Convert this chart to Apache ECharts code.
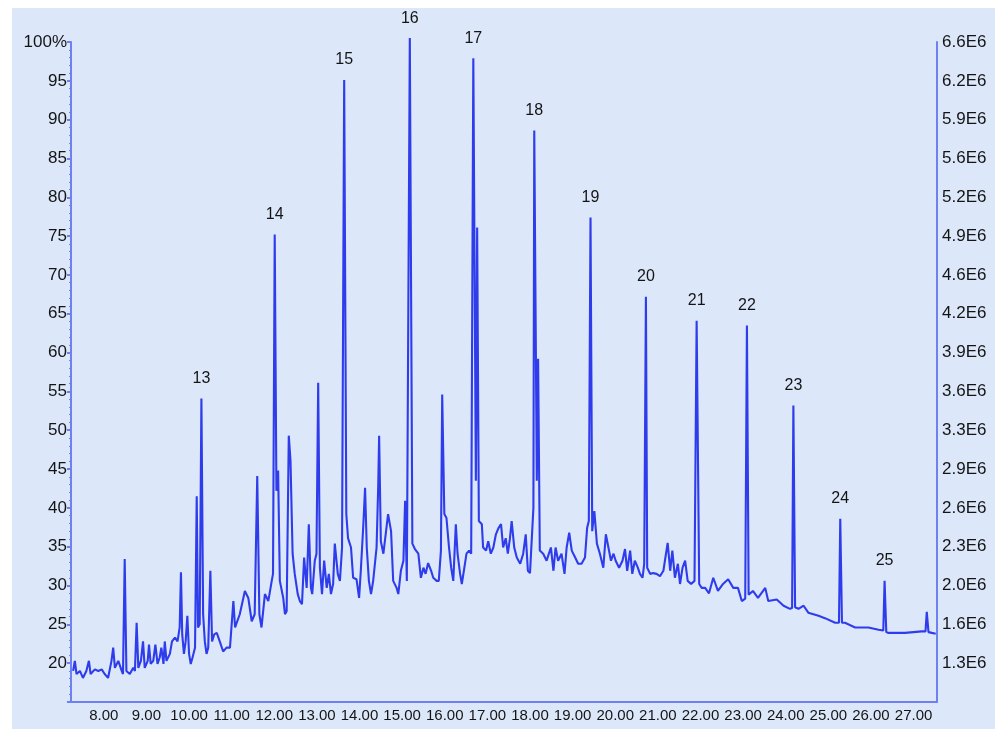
<!DOCTYPE html>
<html>
<head>
<meta charset="utf-8">
<title>Chromatogram</title>
<script src="https://cdn.jsdelivr.net/npm/echarts@6/dist/echarts.min.js"></script>
<style>
    body { margin: 0; background: #ffffff; }
    #chart { position: absolute; left: 12px; top: 8px; width: 983px; height: 721px; background: #dce8fa; }
</style>
</head>
<body>
<div id="chart"></div>
<script>
// [retention time (min), relative abundance (%)]
var chromatogram = [
    [7.28, 19.0], [7.32, 20.3], [7.36, 18.6], [7.44, 19.0], [7.51, 18.1], [7.59, 19.0], [7.65, 20.3], [7.69, 18.6],
    [7.79, 19.2], [7.87, 19.0], [7.95, 19.2], [8.02, 18.6], [8.10, 18.1], [8.18, 20.3], [8.22, 22.0], [8.26, 19.4],
    [8.34, 20.3], [8.42, 19.0], [8.45, 18.6], [8.49, 33.4], [8.53, 19.0], [8.61, 18.6], [8.69, 19.4], [8.73, 19.0],
    [8.77, 25.2], [8.81, 19.4], [8.87, 20.3], [8.92, 22.8], [8.96, 19.4], [9.03, 20.3], [9.06, 22.4], [9.10, 19.9],
    [9.16, 20.3], [9.21, 22.4], [9.26, 19.9], [9.31, 20.7], [9.35, 22.0], [9.40, 19.9], [9.43, 22.8], [9.47, 20.3],
    [9.55, 21.2], [9.60, 22.8], [9.67, 23.3], [9.73, 22.8], [9.78, 24.6], [9.81, 31.7], [9.84, 23.7], [9.88, 21.2],
    [9.92, 22.8], [9.96, 26.1], [10.00, 21.2], [10.04, 19.9], [10.08, 20.7], [10.14, 22.0], [10.18, 41.5], [10.21, 24.6],
    [10.25, 25.0], [10.29, 54.1], [10.33, 26.3], [10.37, 22.8], [10.41, 21.2], [10.45, 22.0], [10.50, 31.9], [10.54, 22.8],
    [10.59, 23.7], [10.65, 23.9], [10.72, 22.8], [10.80, 21.5], [10.88, 22.0], [10.96, 22.0],
    [11.04, 28.0], [11.08, 24.6], [11.19, 26.3], [11.31, 29.3], [11.39, 28.4], [11.47, 25.4], [11.54, 26.3], [11.60, 44.1],
    [11.65, 26.3], [11.70, 24.6], [11.78, 28.9], [11.86, 28.0], [11.94, 30.6], [11.97, 31.5], [12.01, 75.2], [12.05, 42.2],
    [12.09, 44.8], [12.13, 30.6], [12.21, 28.4], [12.25, 26.3], [12.29, 26.7], [12.34, 49.3], [12.38, 46.1], [12.43, 34.1],
    [12.48, 31.5], [12.55, 28.9], [12.60, 28.0], [12.65, 27.6], [12.70, 33.6], [12.76, 29.7], [12.81, 37.9], [12.86, 29.7],
    [12.89, 28.9], [12.95, 33.2], [12.99, 34.1], [13.03, 56.1], [13.07, 32.3], [13.12, 28.9], [13.17, 33.2], [13.23, 29.7],
    [13.28, 31.5], [13.33, 28.9], [13.38, 30.2], [13.42, 35.4], [13.49, 31.5], [13.54, 30.6], [13.59, 34.9], [13.64, 95.1],
    [13.69, 39.2], [13.73, 36.1], [13.80, 34.9], [13.85, 31.0], [13.93, 30.8], [13.99, 28.4], [14.03, 31.9], [14.09, 37.9],
    [14.13, 42.6], [14.17, 34.9], [14.22, 30.6], [14.27, 28.9], [14.32, 30.6], [14.40, 34.9], [14.44, 43.1], [14.46, 49.3],
    [14.50, 35.7], [14.56, 34.1],
    [14.67, 39.2], [14.74, 37.0], [14.79, 30.6], [14.87, 29.7], [14.91, 28.9], [14.97, 31.9], [15.03, 33.2], [15.07, 40.9],
    [15.11, 30.6], [15.14, 30.6], [15.18, 100.5], [15.24, 35.4], [15.30, 34.7], [15.38, 34.1], [15.44, 31.0], [15.50, 32.3],
    [15.55, 31.5], [15.61, 32.9], [15.68, 31.9], [15.73, 31.0], [15.81, 30.6], [15.86, 30.6], [15.91, 34.5], [15.94, 54.6],
    [15.99, 39.2], [16.04, 38.7], [16.10, 34.9], [16.15, 32.3], [16.20, 30.6], [16.26, 37.9], [16.30, 34.1], [16.36, 31.5],
    [16.40, 30.2], [16.46, 32.3], [16.51, 34.1], [16.57, 34.5], [16.62, 34.1], [16.67, 97.9], [16.73, 43.5], [16.76, 76.1],
    [16.80, 38.3], [16.87, 37.9], [16.90, 34.9], [16.97, 34.5], [17.02, 35.7], [17.08, 34.1], [17.14, 34.9], [17.20, 36.6],
    [17.26, 37.4], [17.32, 37.9], [17.37, 34.9], [17.43, 36.1], [17.48, 34.1], [17.53, 36.1], [17.57, 38.3], [17.63, 34.9],
    [17.69, 33.6], [17.77, 32.8], [17.84, 34.1], [17.90, 36.6], [17.95, 31.9], [18.00, 31.6], [18.08, 40.0], [18.10, 88.6],
    [18.16, 43.5], [18.19, 59.2], [18.23, 34.5], [18.31, 34.1], [18.39, 33.2],
    [18.49, 34.9], [18.55, 31.9], [18.60, 34.9], [18.66, 33.2], [18.74, 34.1], [18.81, 31.5], [18.86, 34.9], [18.92, 36.8],
    [18.98, 34.5], [19.06, 33.6], [19.13, 32.8], [19.21, 32.8], [19.29, 33.6], [19.34, 37.4], [19.38, 38.3], [19.42, 77.4],
    [19.46, 37.0], [19.51, 39.6], [19.57, 35.4], [19.64, 34.1], [19.72, 32.3], [19.78, 36.6], [19.84, 34.9], [19.90, 33.2],
    [19.96, 34.1], [20.01, 33.2], [20.09, 32.3], [20.17, 33.2], [20.23, 34.7], [20.28, 31.9], [20.35, 34.5], [20.40, 31.5],
    [20.46, 33.2], [20.53, 32.3], [20.58, 31.5], [20.64, 31.0], [20.68, 32.8], [20.72, 67.2], [20.75, 32.3], [20.82, 31.5],
    [20.89, 31.6], [20.97, 31.5], [21.05, 31.2], [21.13, 31.9], [21.23, 35.5], [21.29, 31.9], [21.34, 34.5], [21.40, 31.0],
    [21.47, 32.8], [21.52, 30.2], [21.58, 32.3], [21.64, 33.2], [21.70, 30.6], [21.78, 30.2], [21.86, 30.6], [21.91, 64.1],
    [21.97, 30.2], [22.03, 29.7], [22.11, 29.7], [22.20, 29.0],
    [22.30, 31.0], [22.41, 29.3], [22.53, 30.2], [22.65, 30.8], [22.77, 29.7], [22.88, 29.7], [22.97, 28.0], [23.05, 28.3],
    [23.09, 63.5], [23.13, 28.8], [23.16, 28.6], [23.23, 29.3], [23.35, 28.4], [23.52, 29.7], [23.59, 28.0], [23.79, 28.2],
    [23.95, 27.4], [24.10, 27.0], [24.15, 27.1], [24.18, 53.2], [24.22, 27.2], [24.30, 27.0], [24.42, 27.4], [24.53, 26.5],
    [24.77, 26.1], [24.92, 25.8], [25.16, 25.2], [25.25, 25.2], [25.28, 38.6], [25.32, 25.2], [25.39, 25.2], [25.63, 24.6],
    [25.94, 24.6], [26.18, 24.3], [26.29, 24.2], [26.32, 30.6], [26.36, 24.0], [26.41, 23.9], [26.80, 23.9], [27.19, 24.1],
    [27.28, 24.1], [27.31, 26.6], [27.35, 24.0], [27.43, 23.9], [27.52, 23.8]
];

// numbered peaks
var peakNumbers = ['13', '14', '15', '16', '17', '18', '19', '20', '21', '22', '23', '24', '25'];
var peakTimes = [10.29, 12.01, 13.64, 15.18, 16.67, 18.10, 19.42, 20.72, 21.91, 23.09, 24.18, 25.28, 26.32];
var peakHeights = [54.1, 75.2, 95.1, 100.5, 97.9, 88.6, 77.4, 67.2, 64.1, 63.5, 53.2, 38.6, 30.6];

// axis ticks
var timeTicks = [8, 9, 10, 11, 12, 13, 14, 15, 16, 17, 18, 19, 20, 21, 22, 23, 24, 25, 26, 27];
var timeTickLabels = ['8.00', '9.00', '10.00', '11.00', '12.00', '13.00', '14.00', '15.00', '16.00', '17.00',
    '18.00', '19.00', '20.00', '21.00', '22.00', '23.00', '24.00', '25.00', '26.00', '27.00'];
var percentTicks = [20, 25, 30, 35, 40, 45, 50, 55, 60, 65, 70, 75, 80, 85, 90, 95, 100];
var countTickLabels = ['1.3E6', '1.6E6', '2.0E6', '2.3E6', '2.6E6', '2.9E6', '3.3E6', '3.6E6', '3.9E6',
    '4.2E6', '4.6E6', '4.9E6', '5.2E6', '5.6E6', '5.9E6', '6.2E6', '6.6E6'];

var axisBlue = '#6f80f3';
var fontFamily = 'Liberation Sans, Arial, sans-serif';
var textColor = '#141414';

var chart = echarts.init(document.getElementById('chart'));

var peakData = peakTimes.map(function (t, i) { return [t, peakHeights[i]]; });

var option = {
    animation: false,
    grid: { left: 59, right: 58, top: 34, bottom: 27 },
    xAxis: {
        type: 'value',
        min: 7.23,
        max: 27.55,
        axisLine: { lineStyle: { color: axisBlue, width: 2 } },
        axisTick: { show: false },
        splitLine: { show: false },
        axisLabel: {
            customValues: timeTicks,
            margin: 6,
            color: textColor,
            fontSize: 15,
            fontFamily: fontFamily,
            formatter: function (v) {
                var i = timeTicks.indexOf(Math.round(v));
                return i >= 0 ? timeTickLabels[i] : '';
            }
        }
    },
    yAxis: [{
        type: 'value',
        min: 15,
        max: 100,
        interval: 5,
        position: 'left',
        axisLine: { show: true, lineStyle: { color: axisBlue, width: 2 } },
        axisTick: { show: true, length: 4, lineStyle: { color: axisBlue, width: 2 } },
        minorTick: { show: true, splitNumber: 5, length: 2, lineStyle: { color: axisBlue } },
        splitLine: { show: false },
        axisLabel: {
            margin: 4,
            color: textColor,
            fontSize: 17,
            fontFamily: fontFamily,
            formatter: function (v) {
                if (percentTicks.indexOf(v) < 0) return '';
                return v === 100 ? '100%' : String(v);
            }
        }
    }, {
        type: 'value',
        min: 15,
        max: 100,
        interval: 5,
        position: 'right',
        axisLine: { show: true, lineStyle: { color: axisBlue, width: 2 } },
        axisTick: { show: false },
        splitLine: { show: false },
        axisLabel: {
            margin: 5,
            padding: [0, 0, 8, 0],
            color: textColor,
            fontSize: 17,
            fontFamily: fontFamily,
            formatter: function (v) {
                var i = percentTicks.indexOf(v);
                return i >= 0 ? countTickLabels[i] : '';
            }
        }
    }],
    series: [{
        name: 'TIC',
        type: 'line',
        data: chromatogram,
        symbol: 'none',
        clip: false,
        lineStyle: { color: '#2f3cec', width: 2.1 },
        z: 3
    }, {
        name: 'peaks',
        type: 'scatter',
        data: peakData,
        symbolSize: 0,
        itemStyle: { color: '#2f3cec', opacity: 1 },
        clip: false,
        silent: true,
        label: {
            show: true,
            position: 'top',
            distance: 12,
            color: textColor,
            fontSize: 16,
            fontFamily: fontFamily,
            formatter: function (p) { return peakNumbers[p.dataIndex]; }
        },
        z: 4
    }]
};

chart.setOption(option);
</script>
</body>
</html>
